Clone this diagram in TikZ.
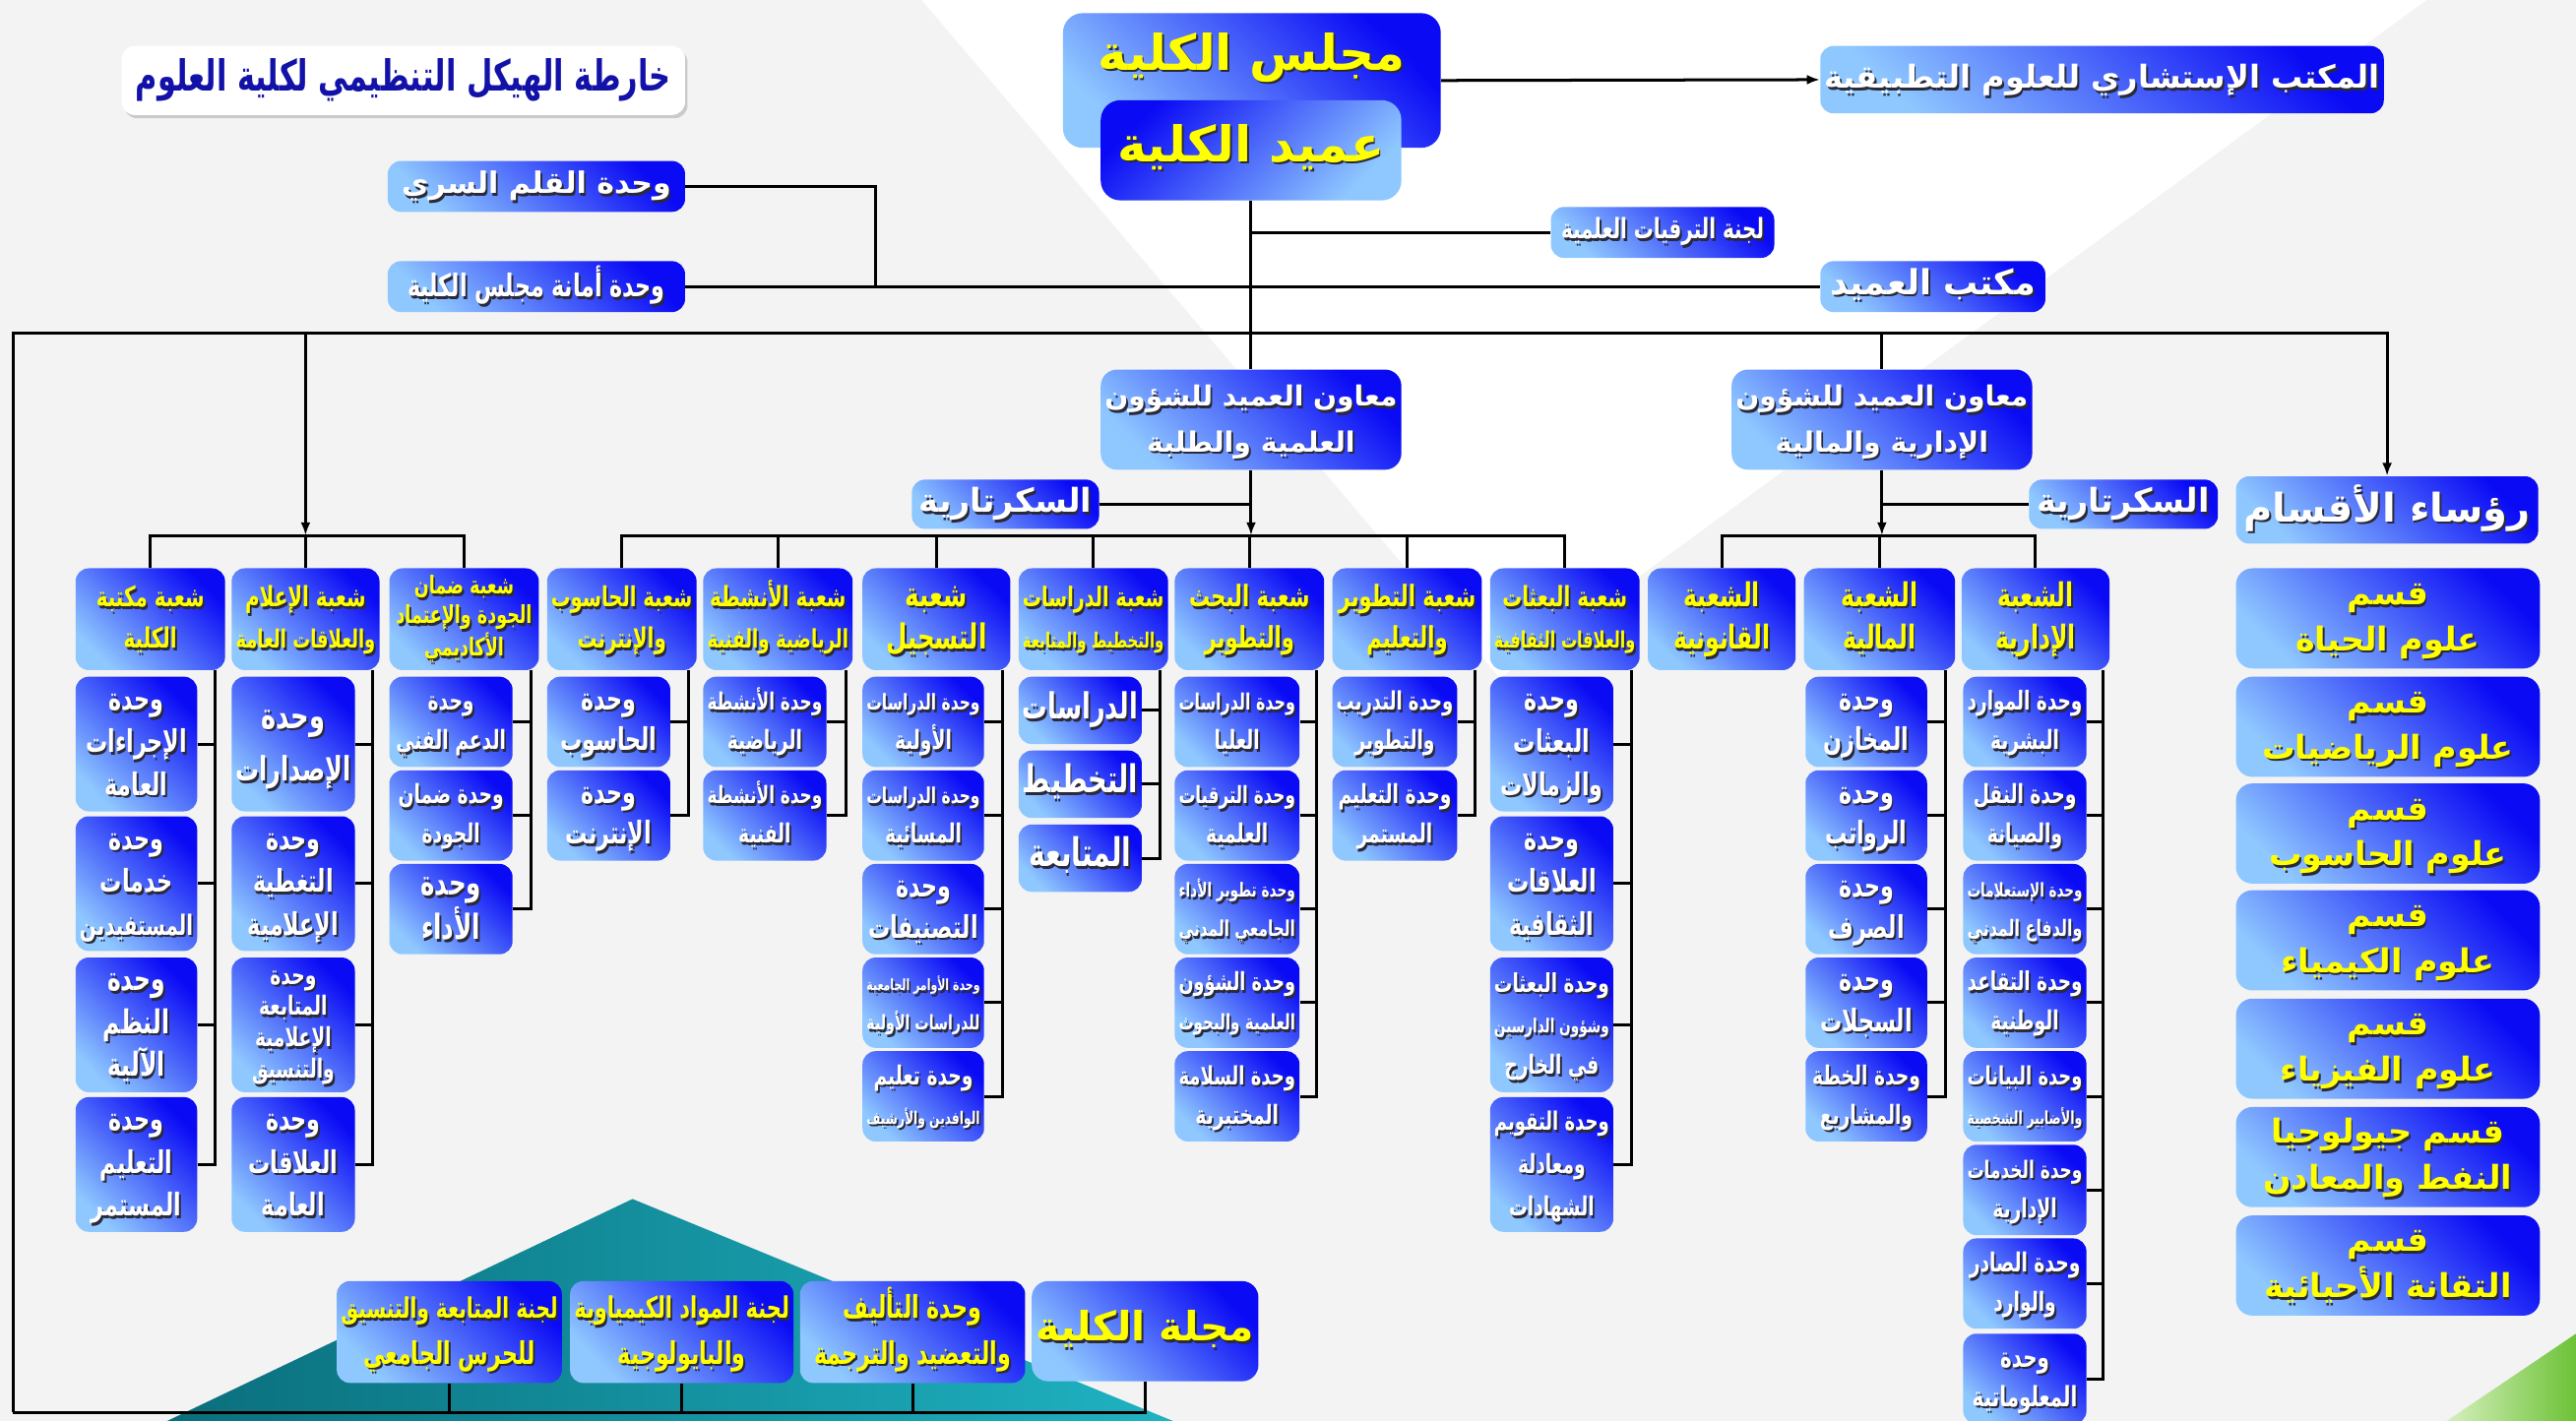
\documentclass[tikz,border=0pt]{standalone}
\usepackage{fontspec}
\usepackage{graphicx}
\usetikzlibrary{arrows.meta,shadows}
\newfontfamily\arabicfont[Script=Arabic]{DejaVu Sans}
\newfontfamily\arabiccond[Script=Arabic,FakeStretch=0.7]{DejaVu Sans}
\TeXXeTstate=1
\definecolor{dblue}{HTML}{0A0AF5}
\definecolor{lblue}{HTML}{8FC8FF}
\definecolor{ylw}{HTML}{FFFF00}
\definecolor{navy}{HTML}{1212A8}
\definecolor{bgc}{HTML}{F3F3F3}
\definecolor{shd}{HTML}{2A2A3A}
\definecolor{tealA}{HTML}{0A6E7C}
\definecolor{tealB}{HTML}{1FB3C2}
\definecolor{grnA}{HTML}{6CC236}
\definecolor{grnB}{HTML}{D8F0C0}
\newlength\maxw
\setlength\maxw{1000pt}
\newcommand\RT[1]{\setbox0=\hbox{\beginR#1\endR}\ifdim\wd0>\maxw\resizebox{\maxw}{!}{\box0}\else\box0\fi}
\newcommand\tx[1]{\leavevmode\rlap{\raisebox{-1.6pt}[0pt][0pt]{\hspace*{1.1pt}\color{shd}\begin{tabular}{@{}c@{}}#1\end{tabular}}}\begin{tabular}{@{}c@{}}#1\end{tabular}}
\newcommand\bx[7]{\node[bx,#6,minimum width={#4pt-#2pt},minimum height={#5pt-#3pt}] (#1) at ({(#2+#4)/2},{(#3+#5)/2}) {\setlength\maxw{\dimexpr #4pt-#2pt-5pt\relax}\tx{#7}};}
\begin{document}
\begin{tikzpicture}[x=1pt,y=-1pt,
  fs/.style 2 args={font=\arabiccond\bfseries\fontsize{#1}{#2}\selectfont},
  fw/.style 2 args={font=\arabicfont\bfseries\fontsize{#1}{#2}\selectfont},
  bx/.style={rounded corners=8pt, top color=dblue, bottom color=lblue, shading angle=-45, inner sep=0pt, text=white, fs={14}{23}},
  bxr/.style={shading angle=45},
  yt/.style={text=ylw},
  ln/.style={line width=1.8pt, black},
  arr/.style={ln, -{Latex[length=8pt,width=6pt]}}]
\useasboundingbox (0,0) rectangle (1568,865);
\begin{scope}
\clip (0,0) rectangle (1568,865);
% background
\fill[bgc] (0,0) rectangle (1568,865);
\fill[white] (561,0) -- (1477,0) -- (913,413) -- cycle;
\shade[left color=tealA, right color=tealB] (100,866) -- (385,730) -- (716,866) -- cycle;
\shade[left color=grnB, right color=grnA] (1488,866) -- (1568,812) -- (1568,866) -- cycle;

% title
\node[fill=white, rounded corners=8pt, drop shadow={opacity=0.35, shadow xshift=1.5pt, shadow yshift=-2pt}, minimum width=343pt, minimum height=42pt, inner sep=0pt, text=navy, fs={26}{28}] (title) at (245.5,49) {\RT{خارطة الهيكل التنظيمي لكلية العلوم}};

% top
\node[bx, minimum width=230pt, minimum height=82pt, rounded corners=12pt, fw={30}{34}, yt] (council) at (762,49) {\raisebox{7pt}[0pt][0pt]{\tx{\RT{مجلس الكلية}}}};
\bx{dean}{670}{61}{853}{122}{bxr,yt,fw={30}{34},rounded corners=12pt}{\RT{عميد الكلية}}
\bx{adv}{1108}{28}{1451}{69}{fw={22}{26}}{\RT{المكتب الإستشاري للعلوم التطبيقية}}
\bx{cmt}{944}{126}{1080}{157}{fs={17}{18}}{\RT{لجنة الترقيات العلمية}}
\bx{office}{1108}{159}{1245}{190}{fw={21}{24}}{\RT{مكتب العميد}}
\bx{qalam}{236}{98}{417}{129}{fw={18}{22}}{\RT{وحدة القلم السري}}
\bx{amana}{236}{159}{417}{190}{fs={19}{20}}{\RT{وحدة أمانة مجلس الكلية}}

\bx{vpA}{670}{225}{853}{286}{fw={17}{28},rounded corners=10pt}{\RT{معاون العميد للشؤون}\\\RT{العلمية والطلبة}}
\bx{vpB}{1054}{225}{1237}{286}{fw={17}{28},rounded corners=10pt}{\RT{معاون العميد للشؤون}\\\RT{الإدارية والمالية}}
\bx{secL}{555}{292}{669}{322}{fw={20}{24}}{\RT{السكرتارية}}
\bx{secR}{1235}{292}{1350}{322}{fw={20}{24}}{\RT{السكرتارية}}
\bx{heads}{1361}{290}{1545}{331}{fw={24}{28}}{\RT{رؤساء الأقسام}}

% headers
\bx{h1}{46}{346}{137}{408}{yt,fs={17}{25}}{\RT{شعبة مكتبة}\\\RT{الكلية}}
\bx{h2}{141}{346}{231}{408}{yt,fs={17}{25}}{\RT{شعبة الإعلام}\\\RT{والعلاقات العامة}}
\bx{h3}{237}{346}{328}{408}{yt,fs={15}{18}}{\RT{شعبة ضمان}\\\RT{الجودة والإعتماد}\\\RT{الأكاديمي}}
\bx{h4}{333}{346}{424}{408}{yt,fs={17}{25}}{\RT{شعبة الحاسوب}\\\RT{والإنترنت}}
\bx{h5}{428}{346}{519}{408}{yt,fs={17}{25}}{\RT{شعبة الأنشطة}\\\RT{الرياضية والفنية}}
\bx{h6}{525}{346}{615}{408}{yt,fs={21}{26}}{\RT{شعبة}\\\RT{التسجيل}}
\bx{h7}{620}{346}{711}{408}{yt,fs={17}{25}}{\RT{شعبة الدراسات}\\\RT{والتخطيط والمتابعة}}
\bx{h8}{715}{346}{806}{408}{yt,fs={18}{25}}{\RT{شعبة البحث}\\\RT{والتطوير}}
\bx{h9}{811}{346}{902}{408}{yt,fs={18}{25}}{\RT{شعبة التطوير}\\\RT{والتعليم}}
\bx{h10}{907}{346}{998}{408}{yt,fs={17}{25}}{\RT{شعبة البعثات}\\\RT{والعلاقات الثقافية}}
\bx{h11}{1003}{346}{1093}{408}{yt,fs={20}{26}}{\RT{الشعبة}\\\RT{القانونية}}
\bx{h12}{1098}{346}{1190}{408}{yt,fs={20}{26}}{\RT{الشعبة}\\\RT{المالية}}
\bx{h13}{1194}{346}{1284}{408}{yt,fs={20}{26}}{\RT{الشعبة}\\\RT{الإدارية}}

% column a (library)
\bx{a1}{46}{412}{120}{494}{fs={19}{26}}{\RT{وحدة}\\\RT{الإجراءات}\\\RT{العامة}}
\bx{a2}{46}{497}{120}{579}{fs={19}{26}}{\RT{وحدة}\\\RT{خدمات}\\\RT{المستفيدين}}
\bx{a3}{46}{583}{120}{665}{fs={20}{26}}{\RT{وحدة}\\\RT{النظم}\\\RT{الآلية}}
\bx{a4}{46}{668}{120}{750}{fs={19}{26}}{\RT{وحدة}\\\RT{التعليم}\\\RT{المستمر}}
% column b (media)
\bx{b1}{141}{412}{216}{494}{fs={22}{32}}{\RT{وحدة}\\\RT{الإصدارات}}
\bx{b2}{141}{497}{216}{579}{fs={19}{26}}{\RT{وحدة}\\\RT{التغطية}\\\RT{الإعلامية}}
\bx{b3}{141}{583}{216}{665}{fs={16}{19}}{\RT{وحدة}\\\RT{المتابعة}\\\RT{الإعلامية}\\\RT{والتنسيق}}
\bx{b4}{141}{668}{216}{750}{fs={19}{26}}{\RT{وحدة}\\\RT{العلاقات}\\\RT{العامة}}
% column c (quality)
\bx{c1}{237}{412}{312}{467}{fs={16}{24}}{\RT{وحدة}\\\RT{الدعم الفني}}
\bx{c2}{237}{469}{312}{524}{fs={16}{24}}{\RT{وحدة ضمان}\\\RT{الجودة}}
\bx{c3}{237}{526}{312}{581}{fs={21}{25}}{\RT{وحدة}\\\RT{الأداء}}
% column d (computer)
\bx{d1}{333}{412}{408}{467}{fs={19}{25}}{\RT{وحدة}\\\RT{الحاسوب}}
\bx{d2}{333}{469}{408}{524}{fs={19}{25}}{\RT{وحدة}\\\RT{الإنترنت}}
% column e (activities)
\bx{e1}{428}{412}{503}{467}{fs={16}{24}}{\RT{وحدة الأنشطة}\\\RT{الرياضية}}
\bx{e2}{428}{469}{503}{524}{fs={16}{24}}{\RT{وحدة الأنشطة}\\\RT{الفنية}}
% column f (registration)
\bx{f1}{525}{412}{599}{467}{fs={16}{24}}{\RT{وحدة الدراسات}\\\RT{الأولية}}
\bx{f2}{525}{469}{599}{524}{fs={16}{24}}{\RT{وحدة الدراسات}\\\RT{المسائية}}
\bx{f3}{525}{526}{599}{581}{fs={19}{25}}{\RT{وحدة}\\\RT{التصنيفات}}
\bx{f4}{525}{583}{599}{638}{fs={16}{24}}{\RT{وحدة الأوامر الجامعية}\\\RT{للدراسات الأولية}}
\bx{f5}{525}{640}{599}{695}{fs={16}{24}}{\RT{وحدة تعليم}\\\RT{الوافدين والأرشيف}}
% column g (studies)
\bx{g1}{620}{412}{695}{453}{fs={24}{26}}{\RT{الدراسات}}
\bx{g2}{620}{457}{695}{498}{fs={24}{26}}{\RT{التخطيط}}
\bx{g3}{620}{502}{695}{543}{fs={24}{26}}{\RT{المتابعة}}
% column k (research)
\bx{k1}{715}{412}{791}{467}{fs={16}{24}}{\RT{وحدة الدراسات}\\\RT{العليا}}
\bx{k2}{715}{469}{791}{524}{fs={16}{24}}{\RT{وحدة الترقيات}\\\RT{العلمية}}
\bx{k3}{715}{526}{791}{581}{fs={16}{24}}{\RT{وحدة تطوير الأداء}\\\RT{الجامعي المدني}}
\bx{k4}{715}{583}{791}{638}{fs={16}{24}}{\RT{وحدة الشؤون}\\\RT{العلمية والبحوث}}
\bx{k5}{715}{640}{791}{695}{fs={16}{24}}{\RT{وحدة السلامة}\\\RT{المختبرية}}
% column m (development)
\bx{m1}{811}{412}{887}{467}{fs={16}{24}}{\RT{وحدة التدريب}\\\RT{والتطوير}}
\bx{m2}{811}{469}{887}{524}{fs={16}{24}}{\RT{وحدة التعليم}\\\RT{المستمر}}
% column n (missions)
\bx{n1}{907}{412}{982}{494}{fs={19}{26}}{\RT{وحدة}\\\RT{البعثات}\\\RT{والزمالات}}
\bx{n2}{907}{497}{982}{579}{fs={19}{26}}{\RT{وحدة}\\\RT{العلاقات}\\\RT{الثقافية}}
\bx{n3}{907}{583}{982}{665}{fs={16}{25}}{\RT{وحدة البعثات}\\\RT{وشؤون الدارسين}\\\RT{في الخارج}}
\bx{n4}{907}{668}{982}{750}{fs={16}{26}}{\RT{وحدة التقويم}\\\RT{ومعادلة}\\\RT{الشهادات}}
% column p (finance)
\bx{p1}{1099}{412}{1173}{467}{fs={19}{25}}{\RT{وحدة}\\\RT{المخازن}}
\bx{p2}{1099}{469}{1173}{524}{fs={19}{25}}{\RT{وحدة}\\\RT{الرواتب}}
\bx{p3}{1099}{526}{1173}{581}{fs={19}{25}}{\RT{وحدة}\\\RT{الصرف}}
\bx{p4}{1099}{583}{1173}{638}{fs={19}{25}}{\RT{وحدة}\\\RT{السجلات}}
\bx{p5}{1099}{640}{1173}{695}{fs={16}{24}}{\RT{وحدة الخطة}\\\RT{والمشاريع}}
% column q (administration)
\bx{q1}{1195}{412}{1270}{467}{fs={16}{24}}{\RT{وحدة الموارد}\\\RT{البشرية}}
\bx{q2}{1195}{469}{1270}{524}{fs={16}{24}}{\RT{وحدة النقل}\\\RT{والصيانة}}
\bx{q3}{1195}{526}{1270}{581}{fs={16}{24}}{\RT{وحدة الإستعلامات}\\\RT{والدفاع المدني}}
\bx{q4}{1195}{583}{1270}{638}{fs={16}{24}}{\RT{وحدة التقاعد}\\\RT{الوطنية}}
\bx{q5}{1195}{640}{1270}{695}{fs={16}{24}}{\RT{وحدة البيانات}\\\RT{والأضابير الشخصية}}
\bx{q6}{1195}{697}{1270}{752}{fs={16}{24}}{\RT{وحدة الخدمات}\\\RT{الإدارية}}
\bx{q7}{1195}{754}{1270}{809}{fs={16}{24}}{\RT{وحدة الصادر}\\\RT{والوارد}}
\bx{q8}{1195}{812}{1270}{867}{fs={17}{24}}{\RT{وحدة}\\\RT{المعلوماتية}}

% departments
\bx{s1}{1361}{346}{1546}{407}{yt,fw={20}{28},rounded corners=10pt}{\RT{قسم}\\\RT{علوم الحياة}}
\bx{s2}{1361}{412}{1546}{473}{yt,fw={20}{28},rounded corners=10pt}{\RT{قسم}\\\RT{علوم الرياضيات}}
\bx{s3}{1361}{477}{1546}{538}{yt,fw={20}{28},rounded corners=10pt}{\RT{قسم}\\\RT{علوم الحاسوب}}
\bx{s4}{1361}{542}{1546}{603}{yt,fw={20}{28},rounded corners=10pt}{\RT{قسم}\\\RT{علوم الكيمياء}}
\bx{s5}{1361}{608}{1546}{669}{yt,fw={20}{28},rounded corners=10pt}{\RT{قسم}\\\RT{علوم الفيزياء}}
\bx{s6}{1361}{674}{1546}{735}{yt,fw={20}{28},rounded corners=10pt}{\RT{قسم جيولوجيا}\\\RT{النفط والمعادن}}
\bx{s7}{1361}{740}{1546}{801}{yt,fw={20}{28},rounded corners=10pt}{\RT{قسم}\\\RT{التقانة الأحيائية}}

% bottom
\bx{bt1}{205}{780}{342}{842}{yt,fs={19}{28}}{\RT{لجنة المتابعة والتنسيق}\\\RT{للحرس الجامعي}}
\bx{bt2}{347}{780}{483}{842}{yt,fs={19}{28}}{\RT{لجنة المواد الكيمياوية}\\\RT{والبايولوجية}}
\bx{bt3}{487}{780}{624}{842}{yt,fs={19}{28}}{\RT{وحدة التأليف}\\\RT{والتعضيد والترجمة}}
\bx{bt4}{628}{780}{766}{841}{yt,fw={26}{30},rounded corners=10pt}{\RT{مجلة الكلية}}

% ---------- connectors ----------
\coordinate (mL) at (8,203);
\coordinate (mR) at (1453,203);
\coordinate (mA) at (186,203);
\coordinate (bb) at (8,860);
\coordinate (qj) at (533,174.5);
\coordinate (bl) at (186,326);
\coordinate (bm) at (761.5,326);
\coordinate (br) at (1145.5,326);

\draw[arr] (council.east) -- (adv.west);
\draw[ln] (dean.south) -- (vpA.north);
\draw[ln] (cmt.west) -- (cmt.west -| dean.south);
\draw[ln] (amana.east) -- (office.west);
\draw[ln] (qalam.east) -| (qj);
\draw[arr] (bb) -- (mL) -- (mR) -- (heads.north);
\draw[ln] (bb) -| (bt4.south);
\draw[ln] (bt1.south) -- (bt1.south |- bb);
\draw[ln] (bt2.south) -- (bt2.south |- bb);
\draw[ln] (bt3.south) -- (bt3.south |- bb);
\draw[arr] (mA) -- (bl);
\draw[ln] (vpB.north |- mR) -- (vpB.north);

\draw[ln] (secL.east) -- (secL.east -| vpA.south);
\draw[ln] (secR.west) -- (secR.west -| vpB.south);
\draw[arr] (vpA.south) -- (bm);
\draw[arr] (vpB.south) -- (br);

\draw[ln] (h1.north) |- (bl) -| (h3.north);
\draw[ln] (h2.north) -- (h2.north |- bl);
\draw[ln] (h4.north) |- (bm) -| (h10.north);
\foreach \h in {h5,h6,h7,h8,h9} \draw[ln] (\h.north) -- (\h.north |- bm);
\draw[ln] (h11.north) |- (br) -| (h13.north);
\draw[ln] (h12.north) -- (h12.north |- br);

% column lines
\coordinate (La) at (131,408);
\coordinate (Lb) at (227,408);
\coordinate (Lc) at (323,408);
\coordinate (Ld) at (419,408);
\coordinate (Le) at (515,408);
\coordinate (Lf) at (610.5,408);
\coordinate (Lg) at (706,408);
\coordinate (Lk) at (801.5,408);
\coordinate (Lm) at (898,408);
\coordinate (Ln) at (993,408);
\coordinate (Lp) at (1184.5,408);
\coordinate (Lq) at (1280,408);
\draw[ln] (La) |- (a4.east);
\foreach \i in {1,2,3} \draw[ln] (a\i.east) -- (a\i.east -| La);
\draw[ln] (Lb) |- (b4.east);
\foreach \i in {1,2,3} \draw[ln] (b\i.east) -- (b\i.east -| Lb);
\draw[ln] (Lc) |- (c3.east);
\foreach \i in {1,2} \draw[ln] (c\i.east) -- (c\i.east -| Lc);
\draw[ln] (Ld) |- (d2.east);
\draw[ln] (d1.east) -- (d1.east -| Ld);
\draw[ln] (Le) |- (e2.east);
\draw[ln] (e1.east) -- (e1.east -| Le);
\draw[ln] (Lf) |- (f5.east);
\foreach \i in {1,2,3,4} \draw[ln] (f\i.east) -- (f\i.east -| Lf);
\draw[ln] (Lg) |- (g3.east);
\foreach \i in {1,2} \draw[ln] (g\i.east) -- (g\i.east -| Lg);
\draw[ln] (Lk) |- (k5.east);
\foreach \i in {1,2,3,4} \draw[ln] (k\i.east) -- (k\i.east -| Lk);
\draw[ln] (Lm) |- (m2.east);
\draw[ln] (m1.east) -- (m1.east -| Lm);
\draw[ln] (Ln) |- (n4.east);
\foreach \i in {1,2,3} \draw[ln] (n\i.east) -- (n\i.east -| Ln);
\draw[ln] (Lp) |- (p5.east);
\foreach \i in {1,2,3,4} \draw[ln] (p\i.east) -- (p\i.east -| Lp);
\draw[ln] (Lq) |- (q8.east);
\foreach \i in {1,2,3,4,5,6,7} \draw[ln] (q\i.east) -- (q\i.east -| Lq);
\end{scope}
\end{tikzpicture}
\end{document}
